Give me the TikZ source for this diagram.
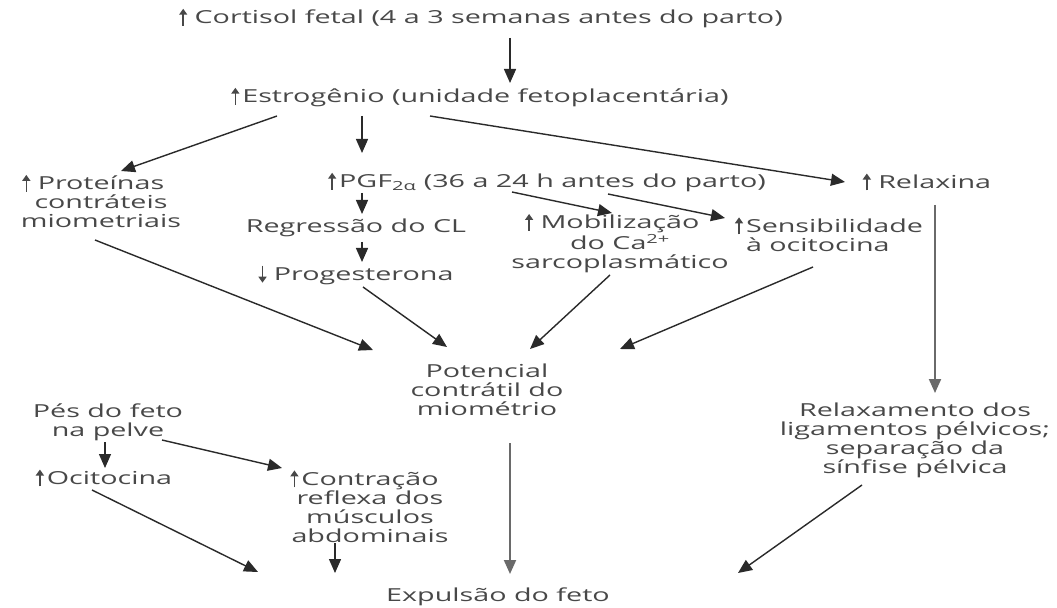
\documentclass[tikz,border=0pt]{standalone}
\usepackage{fontspec}
\setmainfont{Open Sans}[FakeStretch=1.6]
\usetikzlibrary{arrows.meta}
\definecolor{txt}{HTML}{484848}
\definecolor{ln}{HTML}{2a2a2a}
\newcommand\myup{\tikz[baseline=0pt]\draw[txt, line width=1.5pt, -{Triangle[length=6pt,width=8pt]}] (0pt,-2pt) -- (0pt,15pt);}
\newcommand\mydn{\tikz[baseline=0pt]\draw[txt, line width=1.5pt, -{Triangle[length=6pt,width=8pt]}] (0pt,15pt) -- (0pt,-2pt);}
\begin{document}
\begin{tikzpicture}[x=1bp,y=-1bp,
  lbl/.style={inner sep=0pt, outer sep=0pt, align=center, text=txt, font=\fontsize{18}{19}\selectfont},
  arr/.style={draw=ln, line width=1.4bp, -{Triangle[length=14bp,width=12bp]}},
  longarr/.style={arr, draw=ln!70, line width=2bp}]
\fill[white] (0,0) rectangle (1057,608);
\useasboundingbox (0,0) rectangle (1057,608);

\node[lbl] (cort) at (481,18) {\myup{} Cortisol fetal (4 a 3 semanas antes do parto)};
\node[lbl] (estr) at (480,97) {\myup\,Estrogênio (unidade fetoplacentária)};
\node[lbl] (prot) at (101,201) {\llap{\myup\ }Proteínas\\contráteis\\miometriais};
\node[lbl] (pgf) at (547,182) {\myup\,PGF\textsubscript{2α} (36 a 24 h antes do parto)};
\node[lbl] (regr) at (356,228) {Regressão do CL};
\node[lbl] (prog) at (356,275) {\mydn{} Progesterona};
\node[lbl] (mob) at (620,243) {\llap{\myup\ }Mobilização\\do Ca\textsuperscript{2+}\\sarcoplasmático};
\node[lbl, anchor=west, align=left] (sens) at (746,234) {\llap{\myup\,}Sensibilidade\\à ocitocina};
\node[lbl] (relx) at (927,182) {\myup{} Relaxina};
\node[lbl] (pot) at (487,390) {Potencial\\contrátil do\\miométrio};
\node[lbl] (relm) at (915,440) {Relaxamento dos\\ligamentos pélvicos;\\separação da\\sínfise pélvica};
\node[lbl] (pes) at (108,422) {Pés do feto\\na pelve};
\node[lbl] (oci) at (104,478) {\myup\,Ocitocina};
\node[lbl] (contr) at (370,506) {\llap{\myup\,}Contração\\reflexa dos\\músculos\\abdominais};
\node[lbl] (exp) at (498,597) {Expulsão do feto};

\draw[arr] ([shift={(29,20)}]cort.center) -- ([shift={(30,-14)}]estr.center);
\draw[arr] ([shift={(-203,19)}]estr.center) -- ([shift={(20,-30)}]prot.center);
\draw[arr] ([shift={(-118,19)}]estr.center) -- ([shift={(-185,-29)}]pgf.center);
\draw[arr] ([shift={(-50,19)}]estr.center) -- ([shift={(-82,0)}]relx.center);
\draw[arr] ([shift={(-185,11)}]pgf.center) -- ([shift={(6,-14)}]regr.center);
\draw[arr] ([shift={(6,14)}]regr.center) -- ([shift={(6,-13)}]prog.center);
\draw[arr] ([shift={(-35,10)}]pgf.center) -- ([shift={(-8,-30)}]mob.center);
\draw[arr] ([shift={(61,12)}]pgf.center) -- ([shift={(-21,-16)}]sens.west);
\draw[arr] ([shift={(-6,39)}]prot.center) -- ([shift={(-114,-40)}]pot.center);
\draw[arr] ([shift={(7,12)}]prog.center) -- ([shift={(-40,-43)}]pot.center);
\draw[arr] ([shift={(-10,32)}]mob.center) -- ([shift={(43,-41)}]pot.center);
\draw[arr] ([shift={(67,33)}]sens.west) -- ([shift={(133,-41)}]pot.center);
\draw[longarr] ([shift={(8,23)}]relx.center) -- ([shift={(20,-47)}]relm.center);
\draw[longarr] ([shift={(23,53)}]pot.center) -- ([shift={(12,-23)}]exp.center);
\draw[arr] ([shift={(-3,20)}]pes.center) -- ([shift={(1,-10)}]oci.center);
\draw[arr] ([shift={(54,18)}]pes.center) -- ([shift={(-88,-38)}]contr.center);
\draw[arr] ([shift={(-12,12)}]oci.center) -- ([shift={(-240,-25)}]exp.center);
\draw[arr] ([shift={(-35,37)}]contr.center) -- ([shift={(-163,-24)}]exp.center);
\draw[arr] ([shift={(-53,45)}]relm.center) -- ([shift={(240,-24)}]exp.center);
\end{tikzpicture}
\end{document}
